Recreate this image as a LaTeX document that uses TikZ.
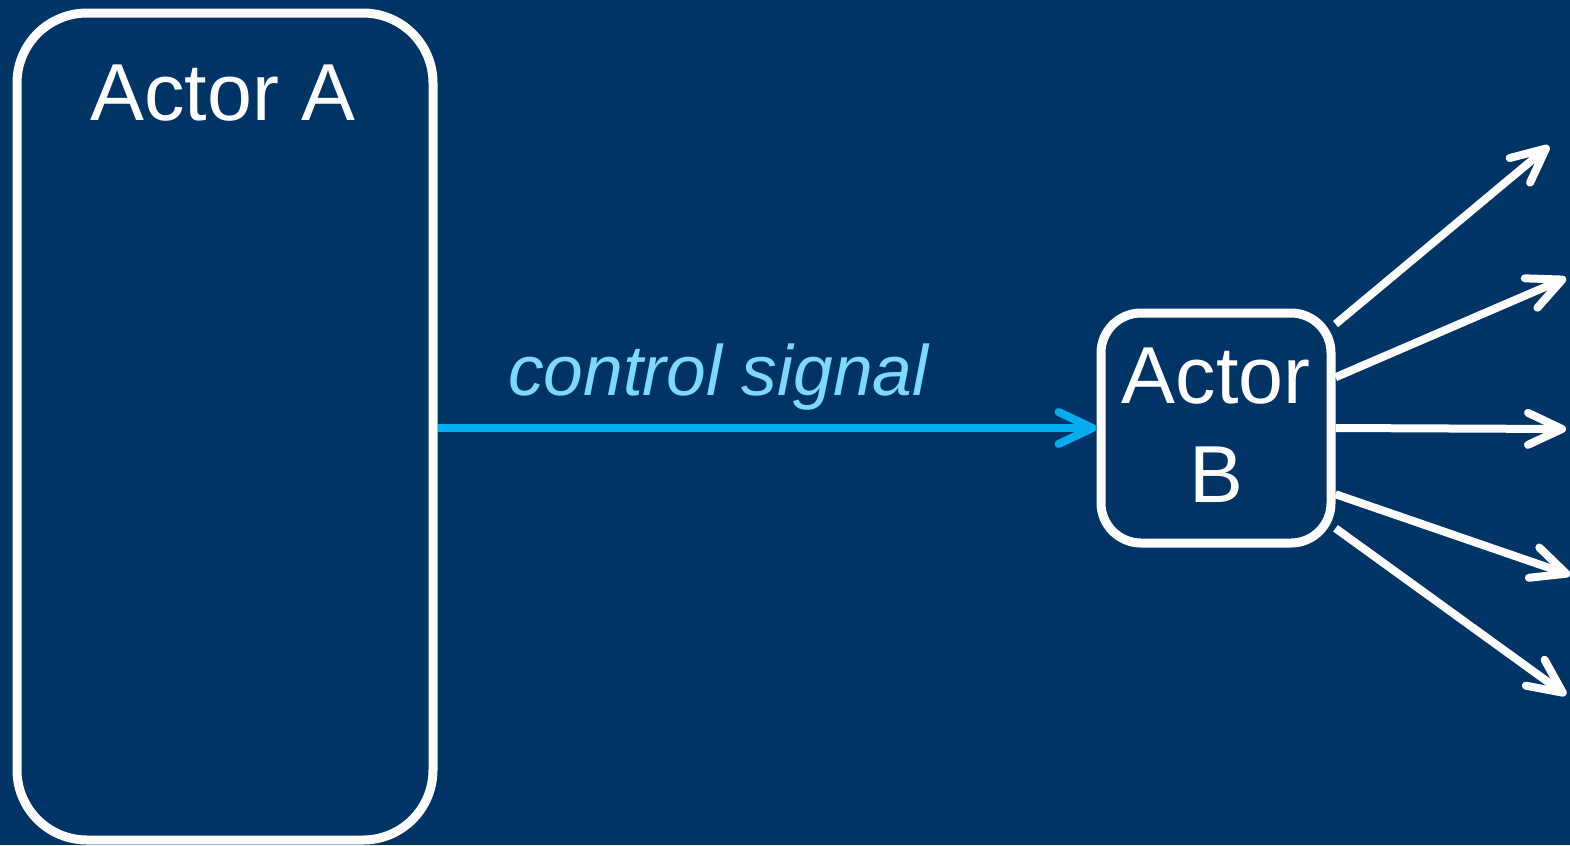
\documentclass[tikz,border=0pt]{standalone}
\usepackage{fontspec}
\setmainfont{Liberation Sans}
\usepackage{xcolor}
\usetikzlibrary{positioning,arrows.meta,calc}

\definecolor{navy}{RGB}{0,52,102}
\definecolor{signalblue}{RGB}{0,174,239}
\definecolor{labelblue}{RGB}{125,218,255}

\tikzset{
  actor/.style={draw=white,line width=0.9mm,rounded corners=#1,inner sep=0pt},
  actortext/.style={text=white,font=\fontsize{23}{28}\selectfont,align=center},
  outarrow/.style={draw=white,line width=0.8mm,-{Straight Barb[length=3.4mm,width=3.2mm,round]}},
}

\begin{document}
\begin{tikzpicture}[x=0.1mm,y=-0.1mm]
  \fill[navy] (0,0) rectangle (1570,845);
  \useasboundingbox (0,0) rectangle (1570,845);

  % the two actors
  \node[actor=7mm,minimum width=41.6mm,minimum height=82.7mm] (A) at (225,426.5) {};
  \node[actortext,anchor=base] (Alabel) at (223,120) {Actor A};
  \node[actor=4mm,minimum width=23mm,minimum height=23mm,actortext,text depth=0.3ex] (B) at (1216,428) {Actor\\B};

  % control signal
  \draw[signalblue,line width=0.8mm,-{Straight Barb[length=3.4mm,width=3.2mm,round]}]
    (A.east |- B.west) -- node[pos=0.426,anchor=base,yshift=3.3mm,text=labelblue,
      font=\itshape\fontsize{20.3}{24}\selectfont] (sig) {control signal} (B.west);

  % outputs of B
  \coordinate (o1) at (1549,146);
  \coordinate (o2) at (1566,278);
  \coordinate (o3) at (1566,429);
  \coordinate (o4) at (1570,575);
  \coordinate (o5) at (1566,695);
  \draw[outarrow] (B.41) -- (o1);
  \draw[outarrow] (B.23) -- (o2);
  \draw[outarrow] (B.east) -- (o3);
  \draw[outarrow] (B.-29) -- (o4);
  \draw[outarrow] (B.-40) -- (o5);
\end{tikzpicture}
\end{document}
